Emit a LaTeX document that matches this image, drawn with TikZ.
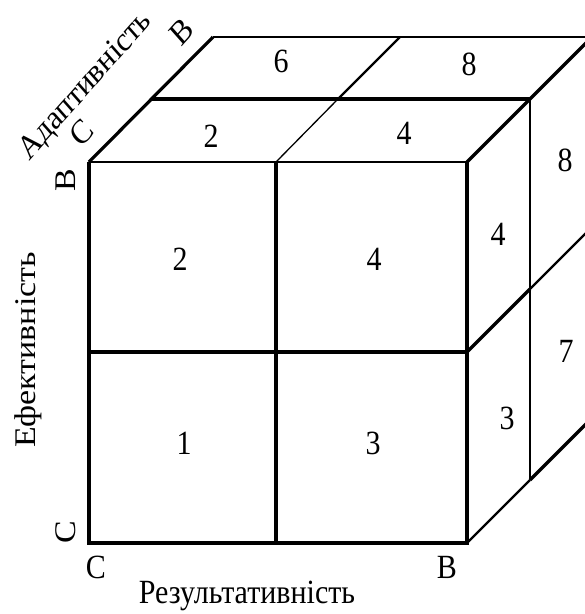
\documentclass[tikz,border=0pt]{standalone}
\usepackage{fontspec}
\setmainfont{Liberation Serif}
\newcommand\stv[1]{\scalebox{1}[1.13]{#1}}
\begin{document}
\begin{tikzpicture}[x=1pt,y=-1pt,
  thk/.style={line width=3.2pt},
  mid/.style={line width=2.2pt},
  thn/.style={line width=1.3pt},
  num/.style={font=\fontsize{30}{30}\selectfont, inner sep=0pt},
  lab/.style={font=\fontsize{30}{30}\selectfont, inner sep=0pt}]
\clip (0,0) rectangle (585,614);
\fill[white] (0,0) rectangle (585,614);
% front face
\draw[thn] (89,162) -- (467,162);
\draw[thk] (89,162) -- (89,543) -- (467,543) -- (467,162);
\draw[thk] (276,162) -- (276,543);
\draw[thk] (89,352) -- (467,352);
% top face
\draw[thk] (89,162) -- (213,37);
\draw[thk] (151,99) -- (530,99);
\draw[thn] (213,37) -- (600,37);
\draw[thn] (276,162) -- (338,99);
\draw[mid] (338,99) -- (400,37);
\draw[thk] (467,162) -- (530,99) -- (600,29);
% right face
\draw[thn] (530,99) -- (530,480);
\draw[thk] (467,352) -- (530,289);
\draw[mid] (530,289) -- (600,219);
\draw[mid] (467,543) -- (530,480);
\draw[thk] (530,480) -- (600,410);
% numbers front
\node[num] (f2) at (180,259) {\stv{2}};
\node[num] (f4) at (374,259) {\stv{4}};
\node[num] (f1) at (184,443) {\stv{1}};
\node[num] (f3) at (373,443) {\stv{3}};
% numbers top
\node[num] (t2) at (211,136) {\stv{2}};
\node[num] (t4) at (404,133) {\stv{4}};
\node[num] (t6) at (281,61) {\stv{6}};
\node[num] (t8) at (469,64) {\stv{8}};
% numbers right
\node[num] (r4) at (498,234) {\stv{4}};
\node[num] (r3) at (507,418) {\stv{3}};
\node[num] (r8) at (565,160) {\stv{8}};
\node[num] (r7) at (566,351) {\stv{7}};
% axis labels
\node[lab] (xc) at (96,567) {\stv{С}};
\node[lab] (xb) at (447,567) {\stv{В}};
\node[lab] (xt) at (247,596) {\stv{Результативність}};
\node[lab] (yc) at (66,532) {\stv{\rotatebox{90}{С}}};
\node[lab] (yb) at (66,180) {\stv{\rotatebox{90}{В}}};
\node[lab] (yt) at (28,350) {\stv{\rotatebox{90}{Ефективність}}};
\node[lab] (zc) at (82,133) {\stv{\rotatebox{45}{С}}};
\node[lab] (zb) at (182,32) {\stv{\rotatebox{45}{В}}};
\node[lab] (zt) at (86,86) {\stv{\rotatebox{45}{Адаптивність}}};
\end{tikzpicture}
\end{document}
